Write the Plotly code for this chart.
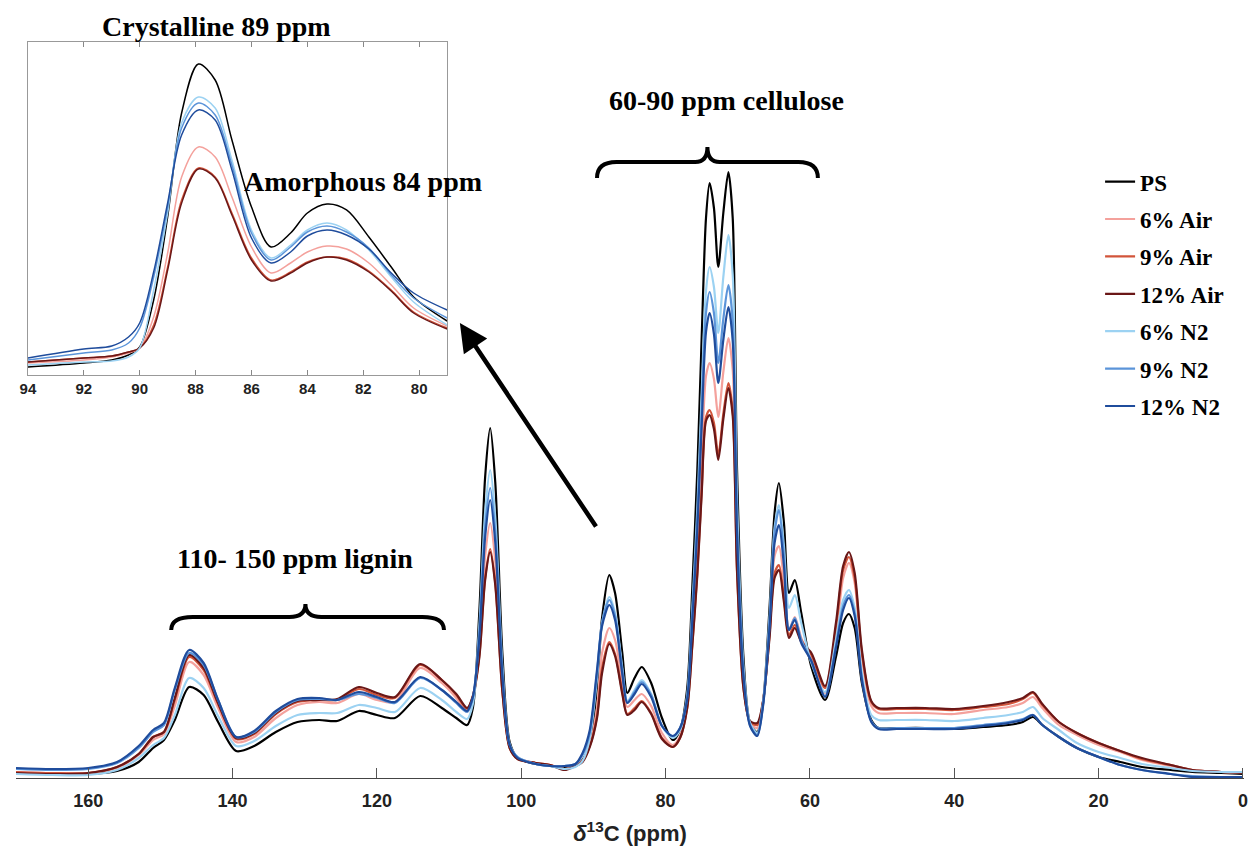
import plotly.graph_objects as go

# ---------------- main spectrum (x: ppm, y: intensity, arbitrary units) ----------------
ppm_main = [170, 165, 160, 156, 153, 151, 149.5, 148, 146, 144,
            142, 139.5, 137, 134, 131, 128, 125.5, 122.5, 120, 117.5,
            114, 111, 109, 107.5, 106.7, 105.8, 105.0, 104.3, 103.6, 102.6,
            101.6, 100.5, 98, 96, 94, 92.5, 91.5, 90.5, 89.5, 88.8,
            87.8, 87, 86, 85.3, 84.3, 83.3, 82, 80.5, 79, 78,
            77, 76.3, 75.6, 75.0, 74.4, 73.9, 73.3, 72.7, 72.0, 71.3,
            70.7, 70.1, 69.2, 68.3, 67.3, 66.5, 65.6, 64.9, 64.3, 63.6,
            62.9, 62.1, 61.2, 59.8, 57.9, 56.4, 55.4, 54.6, 53.8, 52.8,
            51.5, 50.5, 48, 44, 40, 36, 32.5, 30.5, 29.1, 27.8,
            25.5, 23, 20, 17, 14, 10, 7, 3, 0]

ps = [5, 4, 4, 7, 16, 30, 38, 58, 91, 83,
      56, 27, 32, 46, 56, 58, 57, 67, 63, 60,
      82, 70, 60, 53, 70, 167, 301, 350, 296, 123,
      36, 20, 14, 12, 10, 12, 18, 35, 90, 160,
      203, 185, 125, 85, 100, 111, 95, 60, 38, 48,
      90, 190, 308, 440, 560, 595, 570, 511, 565, 606,
      560, 308, 120, 55, 46, 75, 170, 265, 295, 255,
      185, 198, 165, 111, 78, 121, 155, 164, 150, 95,
      58, 50, 50, 50, 49, 51, 53, 56, 61, 53,
      41, 30, 21, 16, 11, 8, 6, 5, 4]

air6 = [6, 5, 5, 10, 23, 38, 44, 72, 116, 103,
        70, 36, 41, 60, 73, 76, 75, 84, 78, 76,
        110, 95, 80, 66, 80, 132, 222, 255, 217, 94,
        32, 20, 15, 13, 9, 12, 17, 33, 70, 125,
        150, 138, 95, 71, 78, 84, 72, 45, 33, 42,
        75, 145, 227, 319, 402, 415, 399, 361, 406, 440,
        408, 229, 96, 55, 50, 75, 150, 222, 232, 197,
        148, 161, 140, 118, 85, 140, 200, 215, 195, 120,
        72, 65, 65, 65, 64, 68, 71, 75, 81, 70,
        53, 43, 33, 26, 18, 12, 8, 6, 5]

air9 = [6, 5, 5, 11, 24, 41, 46, 78, 121, 108,
        74, 39, 44, 64, 76, 78, 78, 89, 83, 80,
        113, 98, 83, 69, 82, 123, 200, 229, 195, 86,
        30, 19, 15, 13, 9, 12, 17, 32, 62, 110,
        136, 124, 86, 64, 70, 77, 65, 40, 31, 40,
        71, 133, 206, 287, 361, 368, 355, 323, 364, 395,
        367, 208, 90, 56, 53, 76, 143, 205, 213, 180,
        143, 153, 138, 123, 90, 150, 208, 221, 200, 125,
        76, 69, 69, 69, 68, 71, 74, 79, 85, 73,
        56, 45, 35, 27, 19, 13, 8, 6, 5]

air12 = [5, 4, 5, 11, 24, 41, 46, 80, 123, 110,
         75, 40, 45, 65, 77, 78, 79, 91, 85, 81,
         114, 98, 84, 70, 82, 121, 198, 226, 193, 85,
         30, 19, 15, 13, 8, 12, 16, 31, 60, 105,
         134, 122, 84, 63, 68, 76, 64, 39, 31, 40,
         70, 132, 203, 284, 357, 363, 349, 318, 359, 390,
         362, 206, 89, 57, 55, 77, 140, 200, 208, 176,
         140, 150, 136, 125, 92, 155, 212, 226, 205, 128,
         77, 70, 70, 70, 69, 72, 76, 80, 86, 74,
         56, 45, 35, 27, 20, 13, 8, 6, 5]

n6 = [4, 3, 3, 8, 20, 33, 40, 63, 100, 90,
      62, 32, 37, 52, 63, 65, 65, 73, 70, 66,
      90, 78, 66, 59, 74, 152, 266, 308, 261, 110,
      34, 21, 14, 12, 9, 11, 17, 40, 100, 155,
      181, 165, 110, 77, 88, 98, 84, 52, 40, 48,
      83, 169, 270, 384, 487, 511, 491, 445, 501, 543,
      503, 278, 111, 55, 45, 75, 160, 250, 273, 232,
      170, 183, 155, 115, 86, 138, 178, 188, 170, 105,
      63, 58, 58, 58, 57, 60, 63, 66, 71, 60,
      48, 35, 26, 20, 14, 10, 7, 6, 6]

n9 = [9, 8, 9, 15, 30, 46, 53, 88, 125, 113,
      78, 41, 46, 66, 78, 79, 78, 84, 80, 75,
      100, 88, 75, 66, 80, 145, 251, 290, 246, 105,
      33, 21, 14, 12, 12, 14, 23, 45, 105, 155,
      178, 162, 108, 76, 86, 96, 83, 52, 42, 50,
      81, 163, 259, 367, 465, 486, 465, 415, 459, 493,
      457, 254, 104, 53, 43, 73, 155, 245, 268, 222,
      148, 160, 138, 117, 82, 132, 172, 183, 165, 100,
      57, 50, 50, 50, 50, 53, 56, 59, 63, 53,
      41, 30, 21, 13, 8, 4, 2, 1, 1]

n12 = [10, 9, 10, 16, 32, 48, 55, 90, 128, 115,
       78, 41, 47, 67, 79, 80, 78, 86, 81, 76,
       101, 88, 76, 67, 81, 140, 241, 278, 236, 101,
       33, 20, 14, 12, 12, 14, 25, 48, 108, 152,
       173, 158, 104, 75, 84, 94, 81, 52, 42, 50,
       79, 157, 249, 352, 446, 465, 444, 395, 438, 471,
       437, 244, 101, 52, 42, 72, 150, 235, 253, 212,
       148, 158, 135, 117, 81, 130, 168, 180, 162, 98,
       56, 49, 49, 49, 49, 52, 55, 58, 63, 53,
       41, 30, 21, 13, 8, 4, 1, 1, 1]

# ---------------- inset (79-94 ppm zoom) ----------------
ppm_inset = [94, 92, 91, 90.4, 90, 89.5, 89, 88.5, 87.9, 87.3, 86.7,
             86, 85.3, 84.6, 84, 83.3, 82.6, 81.8, 81, 80.2, 79]
ps_in = [8, 12, 15, 20, 28, 75, 158, 262, 311, 295, 235, 168, 128, 142, 162, 171, 165, 138, 108, 78, 54]
air6_in = [12, 15, 18, 22, 27, 58, 122, 198, 228, 218, 178, 128, 102, 112, 123, 129, 126, 112, 90, 67, 49]
air9_in = [13, 17, 19, 23, 27, 50, 108, 175, 207, 198, 162, 117, 95, 103, 113, 118, 116, 104, 85, 63, 47]
air12_in = [13, 17, 19, 23, 27, 47, 105, 172, 206, 197, 160, 115, 94, 102, 112, 118, 115, 103, 84, 62, 46]
n6_in = [10, 13, 14, 18, 27, 85, 162, 252, 278, 267, 215, 145, 117, 130, 145, 152, 145, 125, 98, 73, 50]
n9_in = [15, 22, 25, 32, 47, 98, 168, 247, 272, 260, 210, 142, 115, 128, 143, 149, 143, 127, 100, 77, 57]
n12_in = [17, 26, 29, 38, 52, 103, 172, 240, 265, 255, 205, 137, 112, 123, 139, 145, 140, 126, 102, 82, 65]

series_names = ["PS", "6% Air", "9% Air", "12% Air", "6% N2", "9% N2", "12% N2"]
main_values = [ps, air6, air9, air12, n6, n9, n12]
inset_values = [ps_in, air6_in, air9_in, air12_in, n6_in, n9_in, n12_in]
colors = ["#000000", "#F4A19C", "#D2543A", "#6A1717", "#9CD2F2", "#5B94D9", "#1F4C9C"]

main_ticks = [160, 140, 120, 100, 80, 60, 40, 20, 0]
inset_ticks = [94, 92, 90, 88, 86, 84, 82, 80]

SERIF = "Liberation Serif, Times New Roman, serif"
NARROW = "Liberation Sans Narrow, Arial Narrow, Liberation Sans, Arial, sans-serif"

fig = go.Figure()
for name, vals, col in zip(series_names, main_values, colors):
    fig.add_trace(go.Scatter(
        x=ppm_main, y=vals, mode="lines", name=name, legendgroup=name,
        line=dict(color=col, width=2.2, shape="spline", smoothing=0.8),
        xaxis="x", yaxis="y", hoverinfo="skip"))
for name, vals, col in zip(series_names, inset_values, colors):
    fig.add_trace(go.Scatter(
        x=ppm_inset, y=vals, mode="lines", name=name, legendgroup=name, showlegend=False,
        line=dict(color=col, width=1.5, shape="spline", smoothing=0.9),
        xaxis="x2", yaxis="y2", hoverinfo="skip"))

# curly braces (decorations placed in data coordinates)
def brace(x0, x1, xc, y_end, y_flat, y_tip, d_end, d_tip):
    return (f"M {x0},{y_end} Q {x0},{y_flat} {x0 - d_end},{y_flat} "
            f"L {xc + d_tip},{y_flat} Q {xc},{y_flat} {xc},{y_tip} "
            f"Q {xc},{y_flat} {xc - d_tip},{y_flat} "
            f"L {x1 + d_end},{y_flat} Q {x1},{y_flat} {x1},{y_end}")

shapes = [
    dict(type="path", xref="x", yref="y",
         path=brace(148.5, 110.7, 129.9, 148, 161, 174, 3.0, 2.2),
         line=dict(color="black", width=4)),
    dict(type="path", xref="x", yref="y",
         path=brace(89.5, 58.9, 74.2, 600, 616, 631, 2.7, 1.7),
         line=dict(color="black", width=4)),
]

BIG = dict(family=SERIF, size=28, color="black", weight="bold")
annotations = [
    dict(xref="paper", yref="paper", x=0.163, y=1.0053, xanchor="center", yanchor="middle",
         text="Crystalline 89 ppm", showarrow=False, font=BIG),
    dict(xref="x2", yref="y2", x=82.0, y=193, text="Amorphous 84 ppm", showarrow=False, font=BIG),
    dict(xref="x", yref="y", x=71.6, y=678, text="60-90 ppm cellulose", showarrow=False, font=BIG),
    dict(xref="x", yref="y", x=131.4, y=220, text="110- 150 ppm lignin", showarrow=False, font=BIG),
    dict(xref="x", yref="y", x=108.5, y=455, axref="x", ayref="y", ax=89.5, ay=250,
         text="", showarrow=True, arrowhead=2, arrowsize=1.25, arrowwidth=4.5, arrowcolor="black"),
]

fig.update_layout(
    width=1240, height=838,
    margin=dict(l=2, r=0, t=22, b=68),
    paper_bgcolor="white", plot_bgcolor="white",
    showlegend=True,
    legend=dict(x=0.8828, y=0.826, xanchor="left", yanchor="top",
                font=dict(family=SERIF, size=23, color="black", weight="bold"),
                bgcolor="rgba(0,0,0,0)", tracegroupgap=4.5, itemwidth=30),
    xaxis=dict(range=[170, -0.14], tickvals=main_ticks, ticks="inside", ticklen=10,
               tickcolor="#555555", showline=True, linecolor="#444444", linewidth=1,
               showgrid=False, zeroline=False, ticklabelstandoff=6, ticklabeloverflow="allow",
               tickfont=dict(family=NARROW, size=18, color="#222222", weight="bold"),
               title=dict(text="<i>δ</i><sup>13</sup>C (ppm)", standoff=18,
                          font=dict(family=NARROW, size=22, color="#222222", weight="bold")),
               anchor="y", domain=[0, 1]),
    yaxis=dict(range=[0, 748], visible=False, domain=[0, 1], anchor="x"),
    xaxis2=dict(range=[94, 79], tickvals=inset_ticks, ticks="inside", ticklen=5,
                tickcolor="#888888", showline=True, linecolor="#999999", linewidth=1,
                mirror="ticks", showgrid=False, zeroline=False, ticklabeloverflow="allow",
                tickfont=dict(family=NARROW, size=15, color="#222222", weight="bold"),
                domain=[0.00969, 0.35109], anchor="y2"),
    yaxis2=dict(range=[0, 333], showticklabels=False, ticks="", showline=True,
                linecolor="#999999", linewidth=1, mirror=True, showgrid=False, zeroline=False,
                domain=[0.53877, 0.98396], anchor="x2"),
    shapes=shapes,
    annotations=annotations,
)

fig.write_html("out.html")
